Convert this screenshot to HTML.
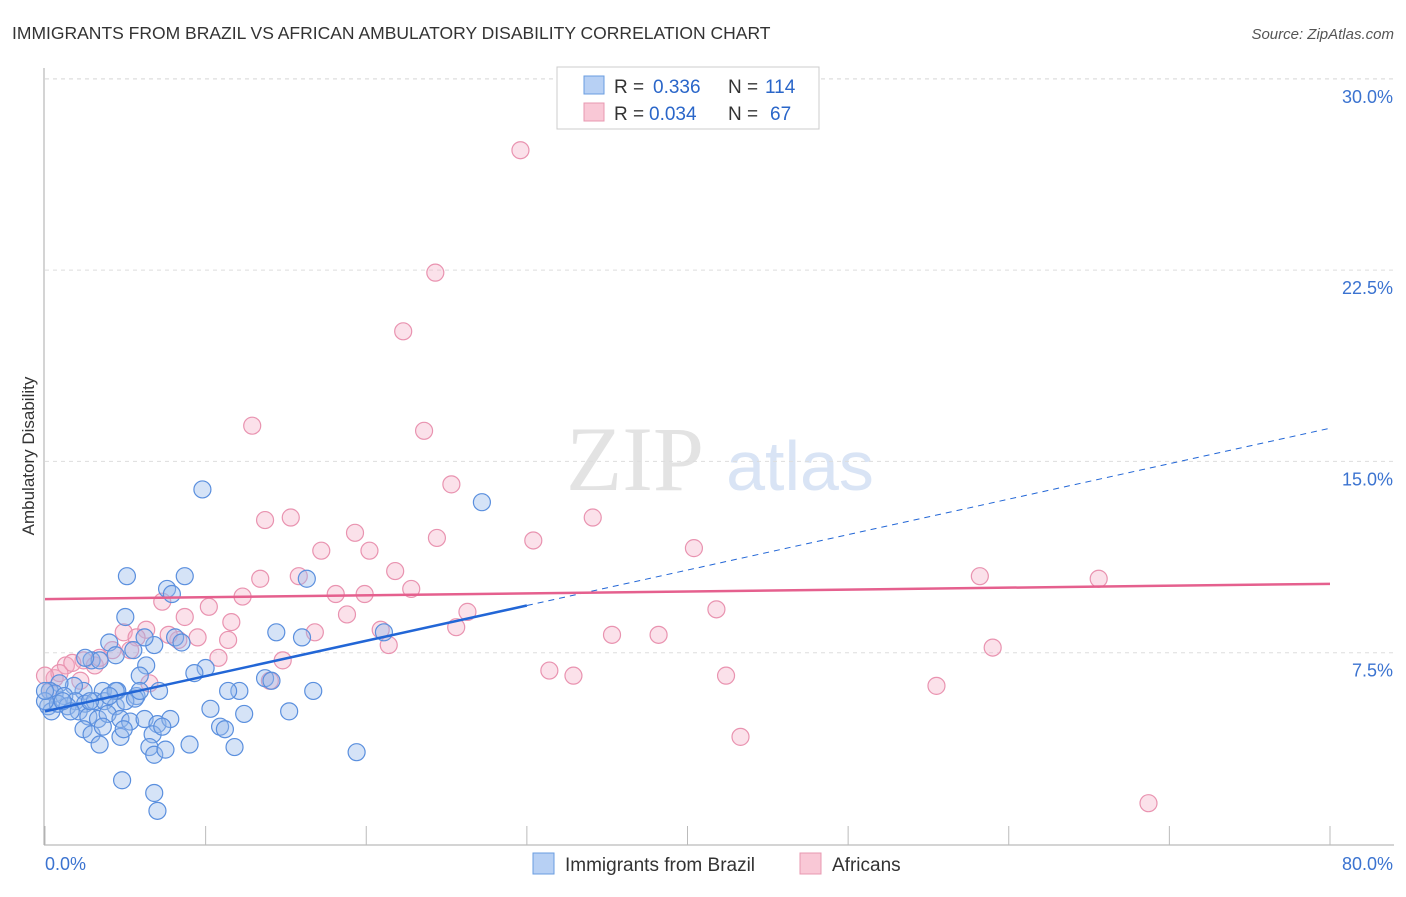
<!DOCTYPE html>
<html><head><meta charset="utf-8"><style>
body{margin:0;background:#fff;font-family:"Liberation Sans",sans-serif}
</style></head><body>
<svg width="1406" height="892" xmlns="http://www.w3.org/2000/svg" id="svg">
<text x="12" y="39" font-size="17.5" fill="#333">IMMIGRANTS FROM BRAZIL VS AFRICAN AMBULATORY DISABILITY CORRELATION CHART</text>
<text x="1394" y="39" font-size="15" fill="#555" font-style="italic" text-anchor="end">Source: ZipAtlas.com</text>
<text x="34" y="456" font-size="17" fill="#333" text-anchor="middle" transform="rotate(-90 34 456)">Ambulatory Disability</text>
<g><text x="635" y="490" font-size="92" fill="#e3e3e3" font-family="Liberation Serif" text-anchor="middle">ZIP</text><text x="800" y="490" font-size="70" fill="#d9e4f5" text-anchor="middle">atlas</text></g>
<g id="grid"></g><g id="axes"></g><g id="pts"></g><g id="lines"></g>
<g>
<rect x="557" y="67" width="262" height="62" fill="#fff" stroke="#ccc"/>
<rect x="584" y="76" width="20" height="18" fill="#b7d0f4" stroke="#6a9de0"/>
<rect x="584" y="103" width="20" height="18" fill="#f9c8d6" stroke="#e898b0"/>
<text x="614" y="93" font-size="19" fill="#333">R =</text>
<text x="653" y="93" font-size="19" fill="#2a66c9">0.336</text>
<text x="728" y="93" font-size="19" fill="#333">N =</text>
<text x="765" y="93" font-size="19" fill="#2a66c9">114</text>
<text x="614" y="120" font-size="19" fill="#333">R =</text>
<text x="649" y="120" font-size="19" fill="#2a66c9">0.034</text>
<text x="728" y="120" font-size="19" fill="#333">N =</text>
<text x="770" y="120" font-size="19" fill="#2a66c9">67</text>
</g>
<g>
<rect x="533" y="853" width="21" height="21" fill="#b7d0f4" stroke="#6a9de0"/>
<text x="565" y="871" font-size="19" fill="#333">Immigrants from Brazil</text>
<rect x="800" y="853" width="21" height="21" fill="#f9c8d6" stroke="#e898b0"/>
<text x="832" y="871" font-size="19" fill="#333">Africans</text>
</g>
</svg>
<script>
const yTicks=[7.5,15,22.5,30];
const yTickLabels=["7.5%","15.0%","22.5%","30.0%"];
const xTicks=[0,10,20,30,40,50,60,70,80];
const blueX=[9.8,27.2,5.1,8.7,16.3,7.6,7.9,5.0,14.4,21.1,16.0,8.1,8.5,6.8,4.0,5.5,4.4,2.9,3.4,2.5,6.3,10.0,5.9,13.7,14.1,12.1,11.4,16.7,7.1,5.7,4.5,3.6,2.4,1.8,0.9,0.3,0.6,1.2,1.9,2.5,3.1,3.7,4.4,5.0,5.6,0.2,0.4,0.8,1.4,2.1,2.7,3.3,3.9,4.7,5.3,6.2,7.0,7.8,10.3,12.4,15.2,2.4,2.9,3.6,4.7,4.9,6.7,7.3,10.9,11.2,3.4,6.5,6.8,7.5,9.0,11.8,19.4,4.8,6.8,7.0,0.0,0.0,1.6,1.1,4.4,4.0,2.8,5.9,9.3,6.2];
const blueY=[13.9,13.4,10.5,10.5,10.4,10.0,9.8,8.9,8.3,8.3,8.1,8.1,7.9,7.8,7.9,7.6,7.4,7.2,7.2,7.3,7.0,6.9,6.6,6.5,6.4,6.0,6.0,6.0,6.0,5.8,6.0,6.0,6.0,6.2,6.3,6.0,5.9,5.8,5.6,5.5,5.6,5.6,5.4,5.6,5.7,5.4,5.2,5.5,5.4,5.2,5.0,4.9,5.1,4.9,4.8,4.9,4.7,4.9,5.3,5.1,5.2,4.5,4.3,4.6,4.2,4.5,4.3,4.6,4.6,4.5,3.9,3.8,3.5,3.7,3.9,3.8,3.6,2.5,2.0,1.3,5.6,6.0,5.2,5.6,6.0,5.8,5.6,6.0,6.7,8.1];
const pinkX=[29.6,24.3,22.3,12.9,23.6,25.3,13.7,15.3,34.1,19.3,24.4,30.4,17.2,20.2,40.4,21.8,13.4,15.8,22.8,18.1,12.3,19.9,58.2,65.6,7.3,10.2,26.3,41.8,18.8,8.7,11.6,25.6,16.8,20.9,35.3,38.2,4.9,6.3,5.7,8.3,9.5,11.4,21.4,59.0,4.2,2.4,1.3,3.1,10.8,14.8,31.4,32.9,42.4,14.0,55.5,0.6,0.3,6.5,43.3,68.7,0.9,1.7,0.0,3.4,5.3,7.7,2.2];
const pinkY=[27.2,22.4,20.1,16.4,16.2,14.1,12.7,12.8,12.8,12.2,12.0,11.9,11.5,11.5,11.6,10.7,10.4,10.5,10.0,9.8,9.7,9.8,10.5,10.4,9.5,9.3,9.1,9.2,9.0,8.9,8.7,8.5,8.3,8.4,8.2,8.2,8.3,8.4,8.1,8.0,8.1,8.0,7.8,7.7,7.6,7.2,7.0,7.0,7.3,7.2,6.8,6.6,6.6,6.4,6.2,6.5,6.0,6.3,4.2,1.6,6.7,7.1,6.6,7.3,7.6,8.2,6.4];
const blueTrend=[0,5.2,30,9.35,80,16.3];
const pinkTrend=[0,9.6,80,10.2];
const X=v=>45+v*(1285/80), Y=v=>844-v*(191.3/7.5);
const NS="http://www.w3.org/2000/svg";
function mk(p,t,a){const e=document.createElementNS(NS,t);for(const k in a)e.setAttribute(k,a[k]);document.getElementById(p).appendChild(e);return e;}
yTicks.forEach((t,i)=>{
 const g=mk('grid','line',{x1:45,x2:1394,y1:Y(t),y2:Y(t),stroke:'#ddd','stroke-dasharray':'4,4'});
 
 
 const l=mk('grid','text',{x:1393,y:Y(t)+24,'font-size':18,fill:'#3b73d0','text-anchor':'end'});l.textContent=yTickLabels[i];
 
 
});
const topGrid=mk('grid','line',{x1:45,x2:1394,y1:79,y2:79,stroke:'#ddd','stroke-dasharray':'4,4'});

mk('axes','line',{x1:44,x2:44,y1:68,y2:845,stroke:'#aaa'});
mk('axes','line',{x1:44,x2:1394,y1:845,y2:845,stroke:'#aaa'});
xTicks.forEach(t=>{const e=mk('axes','line',{x1:X(t),x2:X(t),y1:826,y2:845,stroke:'#bbb'});
 
 });
let a=mk('axes','text',{x:45,y:870,'font-size':18,fill:'#3b73d0'});a.textContent='0.0%';

let b=mk('axes','text',{x:1393,y:870,'font-size':18,fill:'#3b73d0','text-anchor':'end'});b.textContent='80.0%';

pinkX.forEach((x,i)=>{const c=mk('pts','circle',{cx:X(x),cy:Y(pinkY[i]),r:8.5,fill:'rgba(244,170,195,0.35)',stroke:'#e993b0','stroke-width':1.2});
 
 });
blueX.forEach((x,i)=>{const c=mk('pts','circle',{cx:X(x),cy:Y(blueY[i]),r:8.5,fill:'rgba(150,185,235,0.4)',stroke:'#5a8fde','stroke-width':1.2});
 
 });
let bl=mk('lines','line',{x1:X(blueTrend[0]),y1:Y(blueTrend[1]),x2:X(blueTrend[2]),y2:Y(blueTrend[3]),stroke:'#2266d6','stroke-width':2.5});

let bd=mk('lines','line',{x1:X(blueTrend[2]),y1:Y(blueTrend[3]),x2:X(blueTrend[4]),y2:Y(blueTrend[5]),stroke:'#2266d6','stroke-width':1,'stroke-dasharray':'6,5'});

let pl=mk('lines','line',{x1:X(pinkTrend[0]),y1:Y(pinkTrend[1]),x2:X(pinkTrend[2]),y2:Y(pinkTrend[3]),stroke:'#e5608e','stroke-width':2.5});

</script>
</body></html>
